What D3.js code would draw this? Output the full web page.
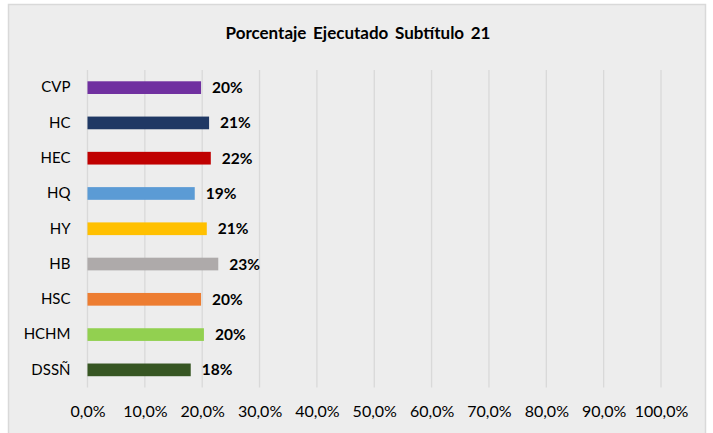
<!DOCTYPE html>
<html>
<head>
<meta charset="utf-8">
<script src="https://cdn.jsdelivr.net/npm/d3@7"></script>
<style>
  body { margin: 0; background: #fff; }
  svg text { font-family: Lato, "Open Sans", sans-serif; fill: #000; }
</style>
</head>
<body>
<svg width="713" height="433"></svg>
<script>
// Chart data
var categories = ["CVP", "HC", "HEC", "HQ", "HY", "HB", "HSC", "HCHM", "DSSÑ"];
var values = [0.198, 0.212, 0.215, 0.187, 0.208, 0.228, 0.198, 0.203, 0.180];
var valueLabels = ["20%", "21%", "22%", "19%", "21%", "23%", "20%", "20%", "18%"];
var barColors = ["#7030a0", "#1f3864", "#c00000", "#5b9bd5", "#ffc000", "#aeaaaa", "#ed7d31", "#92d050", "#375623"];
var xTicks = [0, 0.1, 0.2, 0.3, 0.4, 0.5, 0.6, 0.7, 0.8, 0.9, 1.0];
var title = "Porcentaje Ejecutado Subtítulo 21";

var svg = d3.select("svg");

// chart frame
svg.append("rect")
    .attr("x", 8.5).attr("y", 4.5)
    .attr("width", 697).attr("height", 440)
    .attr("fill", "#ededed")
    .attr("stroke", "#d9d9d9")
    .attr("stroke-width", 1.5);

var plot = { left: 87.5, right: 661, top: 70, bottom: 387.5 };

var x = d3.scaleLinear().domain([0, 1]).range([plot.left, plot.right]);
var y = d3.scaleBand().domain(categories).range([plot.top, plot.bottom]).paddingInner(0.64).paddingOuter(0.32);

// title
svg.append("text")
    .attr("x", 358).attr("y", 38.5)
    .attr("text-anchor", "middle")
    .style("font-size", "17px")
    .style("font-weight", "bold")
    .style("word-spacing", "2.5px")
    .text(title);

// vertical gridlines
svg.append("g")
    .selectAll("line")
    .data(xTicks)
    .enter().append("line")
    .attr("x1", function(d) { return x(d); })
    .attr("x2", function(d) { return x(d); })
    .attr("y1", plot.top)
    .attr("y2", plot.bottom)
    .attr("stroke", "#d9d9d9")
    .attr("stroke-width", 1.3);

// x axis labels
var xAxis = d3.axisBottom(x)
    .tickValues(xTicks)
    .tickSize(0)
    .tickPadding(0)
    .tickFormat(function(d) { return (d * 100).toFixed(1).replace(".", ",") + "%"; });

var gx = svg.append("g")
    .attr("transform", "translate(0," + (plot.bottom + 18) + ")")
    .call(xAxis);
gx.select(".domain").remove();
gx.selectAll("text")
    .style("font-family", "Lato, 'Open Sans', sans-serif")
    .style("font-size", "16px")
    .attr("fill", "#1a1a1a");

// y axis labels
var yAxis = d3.axisLeft(y).tickSize(0).tickPadding(17);
var gy = svg.append("g")
    .attr("transform", "translate(" + plot.left + ",0)")
    .call(yAxis);
gy.select(".domain").remove();
gy.selectAll("text")
    .style("font-family", "Lato, 'Open Sans', sans-serif")
    .style("font-size", "15px")
    .attr("fill", "#1a1a1a");

// bars
svg.append("g")
    .selectAll("rect")
    .data(categories)
    .enter().append("rect")
    .attr("x", x(0))
    .attr("y", function(d) { return y(d); })
    .attr("width", function(d, i) { return x(values[i]) - x(0); })
    .attr("height", y.bandwidth())
    .attr("fill", function(d, i) { return barColors[i]; });

// value labels
svg.append("g")
    .selectAll("text")
    .data(categories)
    .enter().append("text")
    .attr("x", function(d, i) { return x(values[i]) + 11; })
    .attr("y", function(d) { return y(d) + y.bandwidth() / 2; })
    .attr("dy", "0.36em")
    .style("font-size", "15.5px")
    .style("font-weight", "bold")
    .text(function(d, i) { return valueLabels[i]; });
</script>
</body>
</html>
